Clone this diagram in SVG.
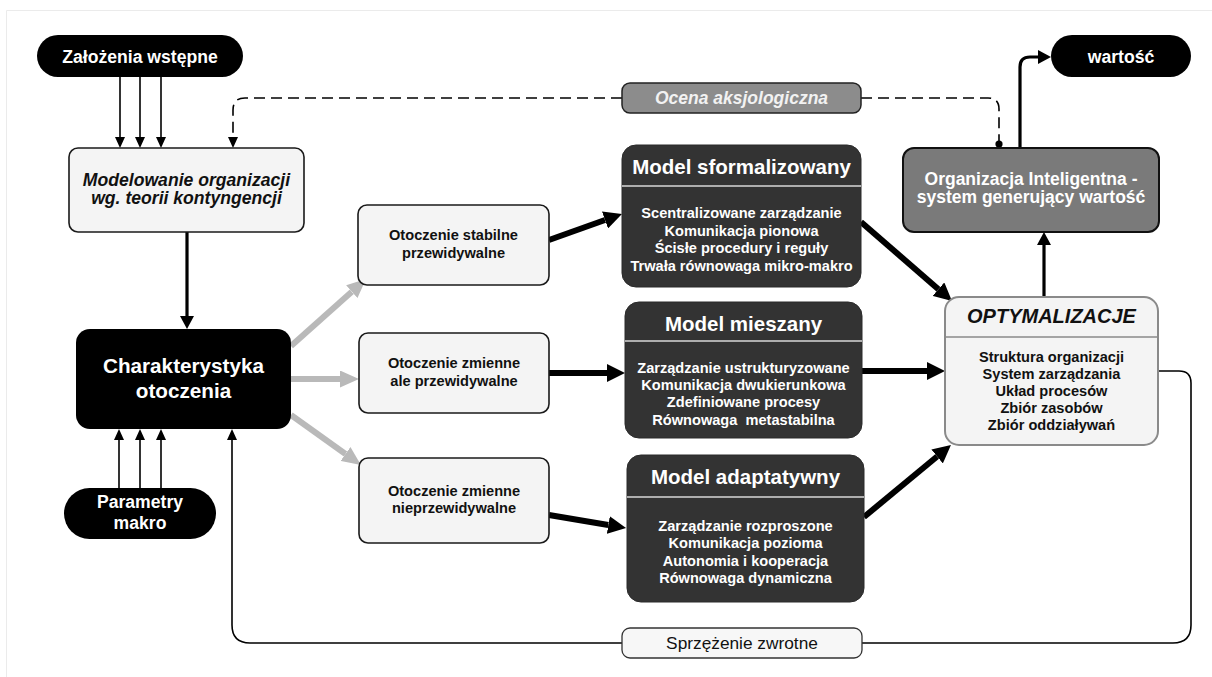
<svg xmlns="http://www.w3.org/2000/svg" width="1212" height="677" viewBox="0 0 1212 677">
<style>
text{font-family:"Liberation Sans",Arial,sans-serif;font-weight:bold;text-anchor:middle}
.w{fill:#fff}
.k{fill:#111}
.it{font-style:italic}
.light{fill:#f4f4f4;stroke:#1a1a1a;stroke-width:1.6}
.dark{fill:#333;stroke:#2a2a2a;stroke-width:1}
.sep{stroke:#d8d8d8;stroke-width:1.3}
.t14{font-size:14.6px}
.t17{font-size:17.6px}
.t20{font-size:20.5px}
.thin{fill:none;stroke:#000;stroke-width:1.6}
.med{fill:none;stroke:#000;stroke-width:3.2}
.thick{fill:none;stroke:#000;stroke-width:6}
.grey{fill:none;stroke:#b9b9b9;stroke-width:6}
</style>
<defs>
<marker id="ahS" viewBox="0 0 10 10" refX="0" refY="5" markerUnits="userSpaceOnUse" markerWidth="11" markerHeight="10" orient="auto" preserveAspectRatio="none"><path d="M0,0 L10,5 L0,10 z" fill="#000"/></marker>
<marker id="ahM" viewBox="0 0 10 10" refX="0" refY="5" markerUnits="userSpaceOnUse" markerWidth="13" markerHeight="14" orient="auto" preserveAspectRatio="none"><path d="M0,0 L10,5 L0,10 z" fill="#000"/></marker>
<marker id="ahL" viewBox="0 0 10 10" refX="0" refY="5" markerUnits="userSpaceOnUse" markerWidth="18" markerHeight="18" orient="auto" preserveAspectRatio="none"><path d="M0,0 L10,5 L0,10 z" fill="#000"/></marker>
<marker id="ahG" viewBox="0 0 10 10" refX="0" refY="5" markerUnits="userSpaceOnUse" markerWidth="19" markerHeight="17" orient="auto" preserveAspectRatio="none"><path d="M0,0 L10,5 L0,10 z" fill="#b9b9b9"/></marker>
</defs>
<rect width="1212" height="677" fill="#fff"/>
<path d="M6.5 677 V10.5 H1212" fill="none" stroke="#ebebeb" stroke-width="1"/>

<g id="connectors">
<path class="thin" d="M120 77 V137" marker-end="url(#ahS)"/>
<path class="thin" d="M140 77 V137" marker-end="url(#ahS)"/>
<path class="thin" d="M161 77 V137" marker-end="url(#ahS)"/>
<path class="thin" d="M622 98 H245 Q233 98 233 110 V137" stroke-dasharray="11 6" marker-end="url(#ahS)"/>
<path class="thin" d="M861 98 H988 Q999 98 999 109 V144" stroke-dasharray="11 6"/>
<circle cx="999" cy="144" r="3.6" fill="#000"/>
<path class="med" d="M187 232 V316" marker-end="url(#ahM)"/>
<path class="thin" d="M119 488 V440" marker-end="url(#ahS)"/>
<path class="thin" d="M140 488 V440" marker-end="url(#ahS)"/>
<path class="thin" d="M161 488 V440" marker-end="url(#ahS)"/>
<path class="thin" d="M1158 371 H1179 Q1191 371 1191 383 V625 Q1191 643 1173 643 H250 Q232 643 232 625 V440" marker-end="url(#ahS)"/>
<path class="grey" d="M291 346 L351.8 291.7" marker-end="url(#ahG)"/>
<path class="grey" d="M291 379 L340 379" marker-end="url(#ahG)"/>
<path class="grey" d="M291 415 L345.5 454" marker-end="url(#ahG)"/>
<path class="thick" d="M549 240 L605 220" marker-end="url(#ahL)"/>
<path class="thick" d="M549 373 L607 373" marker-end="url(#ahL)"/>
<path class="thick" d="M549 515 L608.3 525" marker-end="url(#ahL)"/>
<path class="thick" d="M861 222 L938.4 289.2" marker-end="url(#ahL)"/>
<path class="thick" d="M862 371 L927 371" marker-end="url(#ahL)"/>
<path class="thick" d="M864 517 L937.1 456.5" marker-end="url(#ahL)"/>
<path class="med" d="M1044 297 V245" marker-end="url(#ahM)"/>
<path class="med" d="M1020 148 V67 Q1020 57 1030 57 H1038" marker-end="url(#ahM)"/>
</g>

<g id="zalozenia">
<rect x="37" y="35" width="206" height="42" rx="21" fill="#000"/>
<text class="w t17" x="140" y="63">Założenia wstępne</text>
</g>
<g id="modelowanie">
<rect class="light" x="69" y="148" width="235" height="84" rx="9"/>
<text class="k t17 it" x="186.5" y="186">Modelowanie organizacji</text>
<text class="k t17 it" x="186.5" y="204">wg. teorii kontyngencji</text>
</g>
<g id="charakterystyka">
<rect x="76" y="329" width="215" height="100" rx="14" fill="#000"/>
<text class="w" style="font-size:20.7px" x="183.5" y="373">Charakterystyka</text>
<text class="w" style="font-size:20.7px" x="183.5" y="398">otoczenia</text>
</g>
<g id="parametry">
<rect x="64" y="488" width="152" height="51" rx="25.5" fill="#000"/>
<text class="w t17" x="140" y="508">Parametry</text>
<text class="w t17" x="140" y="529">makro</text>
</g>
<g id="otoczenie-stabilne">
<rect class="light" x="358" y="205" width="191" height="80" rx="9"/>
<text class="k t14" x="453.5" y="240">Otoczenie stabilne</text>
<text class="k t14" x="453.5" y="258">przewidywalne</text>
</g>
<g id="otoczenie-zmienne">
<rect class="light" x="359" y="333" width="190" height="80" rx="9"/>
<text class="k t14" x="454" y="368">Otoczenie zmienne</text>
<text class="k t14" x="454" y="386">ale przewidywalne</text>
</g>
<g id="otoczenie-nieprzewidywalne">
<rect class="light" x="359" y="458" width="190" height="85" rx="9"/>
<text class="k t14" x="454" y="496">Otoczenie zmienne</text>
<text class="k t14" x="454" y="513">nieprzewidywalne</text>
</g>
<g id="ocena">
<rect x="622" y="83" width="239" height="30" rx="8" fill="#8c8c8c" stroke="#222" stroke-width="1.5"/>
<text class="it" style="font-size:17.5px;fill:#f2f2f2" x="741.5" y="104">Ocena aksjologiczna</text>
</g>
<g id="model-sformalizowany">
<rect class="dark" x="622" y="145" width="239" height="142" rx="14"/>
<text class="w t20" x="741.5" y="174">Model sformalizowany</text>
<line class="sep" x1="622" y1="186" x2="861" y2="186"/>
<text class="w t14" x="741.5" y="218">Scentralizowane zarządzanie</text>
<text class="w t14" x="741.5" y="236">Komunikacja pionowa</text>
<text class="w t14" x="741.5" y="253">Ścisłe procedury i reguły</text>
<text class="w t14" x="741.5" y="271">Trwała równowaga mikro-makro</text>
</g>
<g id="model-mieszany">
<rect class="dark" x="625" y="302" width="237" height="136" rx="14"/>
<text class="w t20" x="743.5" y="331">Model mieszany</text>
<line class="sep" x1="625" y1="341" x2="862" y2="341"/>
<text class="w t14" x="743.5" y="373">Zarządzanie ustrukturyzowane</text>
<text class="w t14" x="743.5" y="390">Komunikacja dwukierunkowa</text>
<text class="w t14" x="743.5" y="407">Zdefiniowane procesy</text>
<text class="w t14" x="743.5" y="425" xml:space="preserve">Równowaga  metastabilna</text>
</g>
<g id="model-adaptatywny">
<rect class="dark" x="627" y="455" width="237" height="147" rx="14"/>
<text class="w t20" x="745.5" y="484">Model adaptatywny</text>
<line class="sep" x1="627" y1="497" x2="864" y2="497"/>
<text class="w t14" x="745.5" y="531">Zarządzanie rozproszone</text>
<text class="w t14" x="745.5" y="548">Komunikacja pozioma</text>
<text class="w t14" x="745.5" y="566">Autonomia i kooperacja</text>
<text class="w t14" x="745.5" y="583">Równowaga dynamiczna</text>
</g>
<g id="organizacja">
<rect x="903" y="148" width="256" height="84" rx="11" fill="#7a7a7a" stroke="#111" stroke-width="2"/>
<text class="w" style="font-size:17.5px" x="1031" y="185">Organizacja Inteligentna -</text>
<text class="w" style="font-size:17.5px" x="1031" y="203">system generujący wartość</text>
</g>
<g id="wartosc">
<rect x="1051" y="35" width="140" height="42" rx="21" fill="#000"/>
<text class="w t17" x="1121" y="63">wartość</text>
</g>
<g id="optymalizacje">
<rect x="945" y="297" width="213" height="148" rx="14" fill="#f4f4f4" stroke="#8a8a8a" stroke-width="2"/>
<text class="k it" style="font-size:20px" x="1051.5" y="323">OPTYMALIZACJE</text>
<line x1="945" y1="337" x2="1158" y2="337" stroke="#8a8a8a" stroke-width="1.3"/>
<text class="k t14" x="1051.5" y="362">Struktura organizacji</text>
<text class="k t14" x="1051.5" y="379">System zarządzania</text>
<text class="k t14" x="1051.5" y="396">Układ procesów</text>
<text class="k t14" x="1051.5" y="413">Zbiór zasobów</text>
<text class="k t14" x="1051.5" y="430">Zbiór oddziaływań</text>
</g>
<g id="sprzezenie">
<rect x="622" y="628" width="240" height="30" rx="8" fill="#f7f7f7" stroke="#333" stroke-width="1.3"/>
<text class="k" style="font-size:17.3px;font-weight:normal" x="742" y="649">Sprzężenie zwrotne</text>
</g>
</svg>
